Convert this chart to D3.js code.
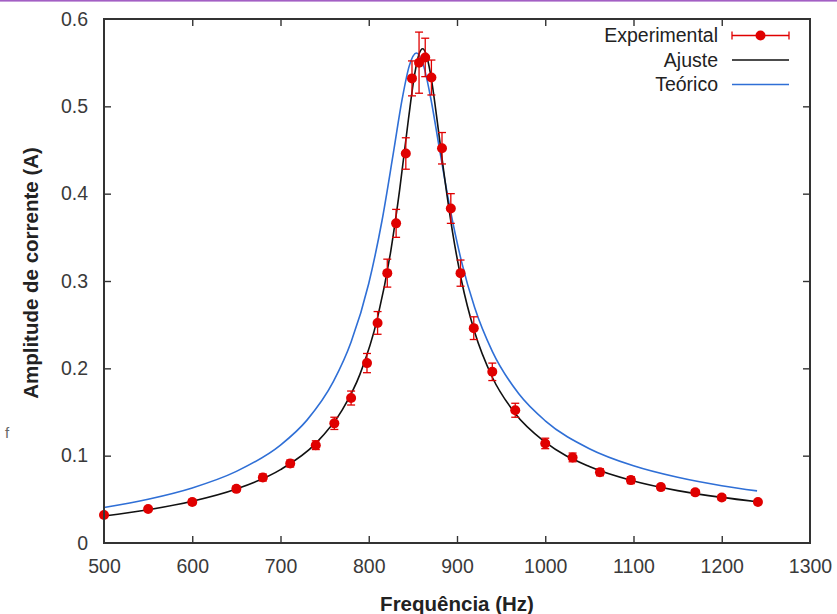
<!DOCTYPE html>
<html>
<head>
<meta charset="utf-8">
<script src="https://cdn.jsdelivr.net/npm/d3@7"></script>
<style>
  html, body { margin: 0; padding: 0; background: #fff; }
  svg { display: block; font-family: "Liberation Sans", Arial, sans-serif; }
</style>
</head>
<body>
<svg id="chart" width="837" height="614"></svg>
<script>
// Measured resonance: frequency (Hz), current amplitude (A), uncertainty (A)
const expFreq = [500, 550, 600, 650, 680, 711, 740, 761, 780, 798, 810, 821, 831, 842,
                 849, 857, 864, 871, 883, 893, 904, 919, 940, 966, 1000, 1031, 1062, 1097,
                 1131, 1170, 1200, 1241];
const expAmp  = [0.032, 0.039, 0.047, 0.062, 0.075, 0.091, 0.112, 0.137, 0.166, 0.206, 0.252,
                 0.309, 0.366, 0.446, 0.532, 0.550, 0.556, 0.533, 0.452, 0.383, 0.309, 0.246,
                 0.196, 0.152, 0.114, 0.098, 0.081, 0.072, 0.064, 0.058, 0.052, 0.047];
const expErr  = [0.002, 0.002, 0.003, 0.003, 0.004, 0.004, 0.005, 0.007, 0.008, 0.011, 0.013,
                 0.016, 0.016, 0.018, 0.020, 0.035, 0.022, 0.020, 0.018, 0.017, 0.015, 0.013,
                 0.010, 0.008, 0.006, 0.005, 0.004, 0.004, 0.003, 0.003, 0.003, 0.002];

// Fitted curve ("Ajuste")
const fitFreq = [500, 550, 600, 650, 700, 740, 770, 790, 810, 825, 835, 845, 852, 857, 861,
                 865, 870, 878, 885, 895, 905, 920, 940, 965, 1000, 1050, 1100, 1150, 1200, 1240];
const fitAmp  = [0.0310, 0.0381, 0.0478, 0.0618, 0.0840, 0.1141, 0.1524, 0.1931, 0.258, 0.3346,
                 0.4043, 0.4855, 0.5366, 0.5598, 0.566, 0.5599, 0.5371, 0.480, 0.4252, 0.3557,
                 0.3009, 0.2415, 0.1898, 0.1495, 0.1154, 0.0876, 0.0710, 0.0600, 0.0522, 0.0473];

// Theoretical curve ("Teórico")
const theoFreq = [500, 550, 600, 650, 700, 730, 760, 780, 800, 815, 828, 838, 846, 854, 862,
                  870, 880, 892, 905, 920, 940, 970, 1000, 1050, 1100, 1150, 1200, 1240];
const theoAmp  = [0.0407, 0.0502, 0.0631, 0.0820, 0.1121, 0.1407, 0.1850, 0.2301, 0.2972, 0.3690,
                  0.4472, 0.5090, 0.5466, 0.561, 0.5469, 0.5107, 0.4521, 0.3837, 0.3228, 0.2696,
                  0.2194, 0.1708, 0.1399, 0.1080, 0.0884, 0.0752, 0.0656, 0.0597];

const xTicks = [500, 600, 700, 800, 900, 1000, 1100, 1200, 1300];
const yTicks = [0, 0.1, 0.2, 0.3, 0.4, 0.5, 0.6];
const yTickLabels = ["0", "0.1", "0.2", "0.3", "0.4", "0.5", "0.6"];

const legendLabels = ["Experimental", "Ajuste", "Teórico"];

const svg = d3.select("#chart");
const W = 837, H = 614;
const plot = { left: 104, right: 810, top: 19, bottom: 543 };

const RED = "#e00000", BLACK = "#111", BLUE = "#2f6fd6";

// thin purple rule along the top edge
svg.append("rect").attr("x", 0).attr("y", 0).attr("width", W).attr("height", 1.6)
  .attr("fill", "#a35fc4");

const x = d3.scaleLinear().domain([500, 1300]).range([plot.left, plot.right]);
const y = d3.scaleLinear().domain([0, 0.6]).range([plot.bottom, plot.top]);

const tickLen = 7;
const axisColor = "#333";
const labelColor = "#3a3a3a";
const tickFont = 19.5;

// bottom axis labels + inward ticks (mirrored on top)
const xAxis = d3.axisBottom(x).tickValues(xTicks).tickSize(-tickLen).tickPadding(16)
  .tickFormat(d3.format("d"));
const gx = svg.append("g").attr("transform", `translate(0,${plot.bottom})`).call(xAxis);
gx.select(".domain").remove();
gx.selectAll(".tick line").attr("stroke", axisColor).attr("stroke-width", 1.4);
gx.selectAll(".tick text").attr("fill", labelColor).attr("font-size", tickFont);
gx.selectAll(".tick").filter(d => d === 500 || d === 1300).select("line").remove();

const xAxisTop = d3.axisTop(x).tickValues(xTicks).tickSize(-tickLen).tickFormat("");
const gxt = svg.append("g").attr("transform", `translate(0,${plot.top})`).call(xAxisTop);
gxt.select(".domain").remove();
gxt.selectAll(".tick line").attr("stroke", axisColor).attr("stroke-width", 1.4);
gxt.selectAll(".tick").filter(d => d === 500 || d === 1300).select("line").remove();

// left axis labels + inward ticks (mirrored on right)
const yAxis = d3.axisLeft(y).tickValues(yTicks).tickSize(-tickLen).tickPadding(16)
  .tickFormat((d, i) => yTickLabels[i]);
const gy = svg.append("g").attr("transform", `translate(${plot.left},0)`).call(yAxis);
gy.select(".domain").remove();
gy.selectAll(".tick line").attr("stroke", axisColor).attr("stroke-width", 1.4);
gy.selectAll(".tick text").attr("fill", labelColor).attr("font-size", tickFont);
gy.selectAll(".tick").filter(d => d === 0 || d === 0.6).select("line").remove();

const yAxisRight = d3.axisRight(y).tickValues(yTicks).tickSize(-tickLen).tickFormat("");
const gyr = svg.append("g").attr("transform", `translate(${plot.right},0)`).call(yAxisRight);
gyr.select(".domain").remove();
gyr.selectAll(".tick line").attr("stroke", axisColor).attr("stroke-width", 1.4);
gyr.selectAll(".tick").filter(d => d === 0 || d === 0.6).select("line").remove();

// curves
const line = d3.line().x(d => x(d[0])).y(d => y(d[1])).curve(d3.curveMonotoneX);
svg.append("path").datum(d3.zip(theoFreq, theoAmp)).attr("d", line)
  .attr("fill", "none").attr("stroke", BLUE).attr("stroke-width", 1.6);
svg.append("path").datum(d3.zip(fitFreq, fitAmp)).attr("d", line)
  .attr("fill", "none").attr("stroke", BLACK).attr("stroke-width", 1.6);

// experimental points with vertical error bars
const pts = expFreq.map((f, i) => ({ f, a: expAmp[i], e: expErr[i] }));
const cap = 4;
const gp = svg.append("g");
const pg = gp.selectAll("g").data(pts).join("g");
pg.append("line")
  .attr("x1", d => x(d.f)).attr("x2", d => x(d.f))
  .attr("y1", d => y(d.a + d.e)).attr("y2", d => y(d.a - d.e))
  .attr("stroke", RED).attr("stroke-width", 1.3);
pg.append("line")
  .attr("x1", d => x(d.f) - cap).attr("x2", d => x(d.f) + cap)
  .attr("y1", d => y(d.a + d.e)).attr("y2", d => y(d.a + d.e))
  .attr("stroke", RED).attr("stroke-width", 1.3);
pg.append("line")
  .attr("x1", d => x(d.f) - cap).attr("x2", d => x(d.f) + cap)
  .attr("y1", d => y(d.a - d.e)).attr("y2", d => y(d.a - d.e))
  .attr("stroke", RED).attr("stroke-width", 1.3);
pg.append("circle")
  .attr("cx", d => x(d.f)).attr("cy", d => y(d.a)).attr("r", 5)
  .attr("fill", RED);

// frame
svg.append("rect")
  .attr("x", plot.left).attr("y", plot.top)
  .attr("width", plot.right - plot.left).attr("height", plot.bottom - plot.top)
  .attr("fill", "none").attr("stroke", axisColor).attr("stroke-width", 2);

// axis titles
svg.append("text").attr("x", (plot.left + plot.right) / 2).attr("y", 611)
  .attr("text-anchor", "middle").attr("font-weight", "bold").attr("font-size", 20.5)
  .attr("fill", "#222").text("Frequência (Hz)");
svg.append("text")
  .attr("transform", `translate(38,${(plot.top + plot.bottom) / 2 - 8}) rotate(-90)`)
  .attr("text-anchor", "middle").attr("font-weight", "bold").attr("font-size", 20.5)
  .attr("fill", "#222").text("Amplitude de corrente (A)");
svg.append("text").attr("x", 5).attr("y", 438).attr("font-size", 15)
  .attr("fill", "#666").text("f");

// legend
const lgX = 718, lgY = 42, lgStep = 24.5, sx1 = 732, sx2 = 789;
const lg = svg.append("g");
legendLabels.forEach((lbl, i) => {
  const yy = lgY + i * lgStep;
  lg.append("text").attr("x", lgX).attr("y", yy).attr("text-anchor", "end")
    .attr("font-size", 19.5).attr("fill", "#222").text(lbl);
  const cy = yy - 6.5;
  if (i === 0) {
    lg.append("line").attr("x1", sx1).attr("x2", sx2).attr("y1", cy).attr("y2", cy)
      .attr("stroke", RED).attr("stroke-width", 1.3);
    [sx1, sx2].forEach(xx => lg.append("line").attr("x1", xx).attr("x2", xx)
      .attr("y1", cy - 4).attr("y2", cy + 4).attr("stroke", RED).attr("stroke-width", 1.3));
    lg.append("circle").attr("cx", (sx1 + sx2) / 2).attr("cy", cy).attr("r", 5).attr("fill", RED);
  } else {
    lg.append("line").attr("x1", sx1).attr("x2", sx2).attr("y1", cy).attr("y2", cy)
      .attr("stroke", i === 1 ? BLACK : BLUE).attr("stroke-width", 1.6);
  }
});
</script>
</body>
</html>
